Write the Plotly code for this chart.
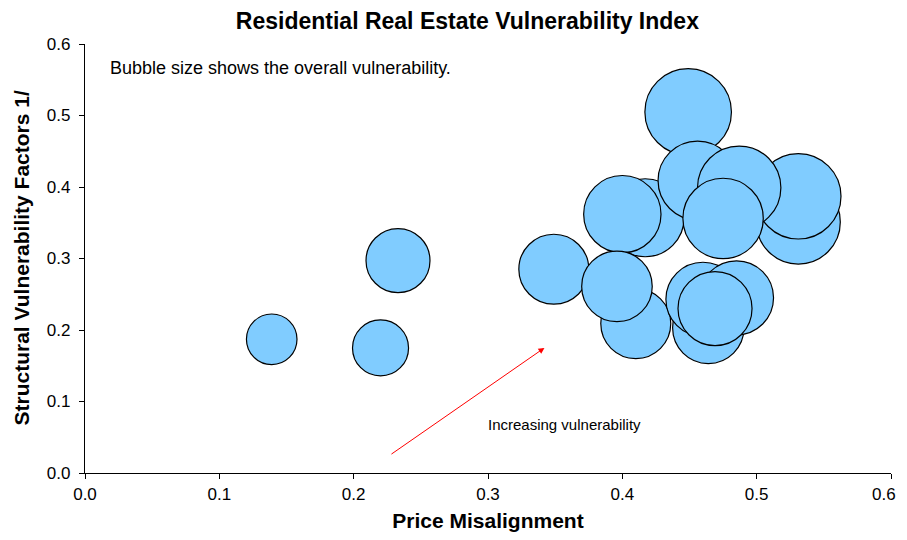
import plotly.graph_objects as go

# price misalignment (x), structural vulnerability factors (y), overall vulnerability (bubble area)
price_misalignment = [0.139, 0.220, 0.233, 0.531, 0.531, 0.449, 0.417, 0.400, 0.410,
                      0.349, 0.396, 0.456, 0.487, 0.475, 0.464, 0.460, 0.485, 0.469]
structural_factors = [0.187, 0.175, 0.297, 0.351, 0.387, 0.505, 0.357, 0.362, 0.209,
                      0.285, 0.261, 0.409, 0.399, 0.356, 0.203, 0.243, 0.245, 0.230]
overall_vulnerability = [0.188, 0.231, 0.301, 0.519, 0.536, 0.551, 0.447, 0.440, 0.360,
                         0.360, 0.366, 0.459, 0.511, 0.475, 0.375, 0.403, 0.403, 0.403]

x_tick_vals = [0.0, 0.1, 0.2, 0.3, 0.4, 0.5, 0.6]
# last label padded so it is not clipped at the page edge
x_tick_text = ["0.0", "0.1", "0.2", "0.3", "0.4", "0.5", "0.6&nbsp;&nbsp;&nbsp;"]

FONT = "Arial, Liberation Sans, sans-serif"

fig = go.Figure()
fig.add_trace(go.Scatter(
    x=price_misalignment,
    y=structural_factors,
    mode="markers",
    marker=dict(
        size=overall_vulnerability,
        sizemode="area",
        sizeref=1 / 6800,
        color="#80CCFF",
        opacity=1,
        line=dict(color="black", width=1.2),
    ),
    hoverinfo="x+y",
    showlegend=False,
))

fig.add_annotation(x=0.0171, y=0.566, xref="x", yref="y", xanchor="left",
                   text="Bubble size shows the overall vulnerability.",
                   showarrow=False, font=dict(family=FONT, size=18, color="black"))
fig.add_annotation(x=0.2986, y=0.0685, xref="x", yref="y", xanchor="left",
                   text="Increasing vulnerability",
                   showarrow=False, font=dict(family=FONT, size=15, color="black"))
fig.add_annotation(x=0.3420, y=0.175, ax=0.227, ay=0.025,
                   xref="x", yref="y", axref="x", ayref="y",
                   text="", showarrow=True, arrowhead=2, arrowsize=1.2,
                   arrowwidth=1, arrowcolor="red")
# y axis title as an annotation so it can sit closer to the edge
fig.add_annotation(x=0, y=0.5, xref="paper", yref="paper", xanchor="center", yanchor="middle",
                   xshift=-64, textangle=-90, showarrow=False,
                   text="<b>Structural Vulnerability Factors 1/</b>",
                   font=dict(family=FONT, size=21, color="black"))

# page body has an 8px margin, so the figure is offset inside the window
fig.update_layout(
    width=899, height=524,
    margin=dict(l=77, r=16, t=36, b=59),
    paper_bgcolor="white", plot_bgcolor="white",
    font=dict(family=FONT, color="black"),
    title=dict(text="<b>Residential Real Estate Vulnerability Index</b>",
               x=0.511, xanchor="center", y=0.991, yanchor="top",
               font=dict(family=FONT, size=23, color="black")),
)
fig.update_xaxes(
    range=[0, 0.6], tickvals=x_tick_vals, ticktext=x_tick_text,
    showgrid=False, zeroline=False, showline=True, linecolor="black", linewidth=1.2,
    ticks="outside", ticklen=5, tickcolor="black",
    tickfont=dict(family=FONT, size=17), ticklabeloverflow="allow",
    automargin=False,
    title=dict(text="<b>Price Misalignment</b>", font=dict(family=FONT, size=21), standoff=15),
)
fig.update_yaxes(
    range=[0, 0.6], dtick=0.1, tickformat=".1f",
    showgrid=False, zeroline=False, showline=True, linecolor="black", linewidth=1.2,
    ticks="outside", ticklen=5, tickcolor="black",
    tickfont=dict(family=FONT, size=17), ticklabelstandoff=5,
    automargin=False,
)

fig.write_html("out.html")
